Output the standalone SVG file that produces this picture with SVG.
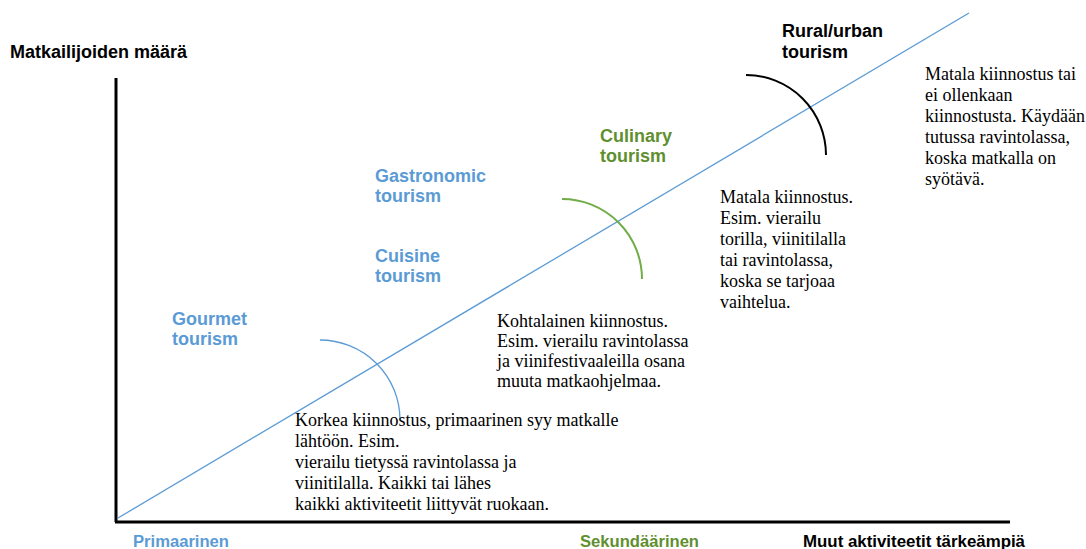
<svg xmlns="http://www.w3.org/2000/svg" width="1086" height="549" viewBox="0 0 1086 549">
<style>
.lbl{font-family:"Liberation Sans",Arial,sans-serif;font-weight:bold;font-size:18px}
.blue{fill:#5b9bd5}
.green{fill:#5f8f2f}
.black{fill:#000}
.body{font-family:"Liberation Serif","Times New Roman",serif;font-size:18px;fill:#000}
.ax{font-family:"Liberation Sans",Arial,sans-serif;font-weight:bold;font-size:16px}
</style>
<rect width="1086" height="549" fill="#fff"/>
<g id="axes">
<line x1="116" y1="78" x2="116" y2="522" stroke="#000" stroke-width="3"/>
<line x1="115" y1="522" x2="1010" y2="522" stroke="#000" stroke-width="3"/>
<text class="lbl black" x="10" y="58">Matkailijoiden määrä</text>
<text class="ax blue" x="133" y="547" textLength="96" lengthAdjust="spacingAndGlyphs">Primaarinen</text>
<text class="ax green" x="580" y="547" textLength="119" lengthAdjust="spacingAndGlyphs">Sekundäärinen</text>
<text class="ax black" x="803" y="547" textLength="222" lengthAdjust="spacingAndGlyphs">Muut aktiviteetit tärkeämpiä</text>
</g>
<g id="connectors" fill="none">
<line x1="118" y1="518" x2="969" y2="13" stroke="#5b9bd5" stroke-width="1.3"/>
<path d="M320,340 A80,80 0 0 1 400,420" stroke="#5b9bd5" stroke-width="1.3"/>
<path d="M562,199 A80,80 0 0 1 642,279" stroke="#70ad47" stroke-width="2"/>
<path d="M746,75 A80,80 0 0 1 826,155" stroke="#000" stroke-width="2"/>
</g>
<g id="gourmet">
<text class="lbl blue" x="172" y="325">Gourmet</text>
<text class="lbl blue" x="172" y="345">tourism</text>
</g>
<g id="gastronomic">
<text class="lbl blue" x="375" y="182">Gastronomic</text>
<text class="lbl blue" x="375" y="202">tourism</text>
</g>
<g id="cuisine">
<text class="lbl blue" x="375" y="262">Cuisine</text>
<text class="lbl blue" x="375" y="282">tourism</text>
</g>
<g id="culinary">
<text class="lbl green" x="600" y="142">Culinary</text>
<text class="lbl green" x="600" y="162">tourism</text>
</g>
<g id="rural">
<text class="lbl black" x="782" y="37">Rural/urban</text>
<text class="lbl black" x="782" y="58">tourism</text>
</g>
<g id="korkea">
<text class="body" x="295" y="426">Korkea kiinnostus, primaarinen syy matkalle</text>
<text class="body" x="295" y="447">lähtöön. Esim.</text>
<text class="body" x="295" y="468">vierailu tietyssä ravintolassa ja</text>
<text class="body" x="295" y="489">viinitilalla. Kaikki tai lähes</text>
<text class="body" x="295" y="510">kaikki aktiviteetit liittyvät ruokaan.</text>
</g>
<g id="kohtalainen">
<text class="body" x="497" y="327">Kohtalainen kiinnostus.</text>
<text class="body" x="497" y="347">Esim. vierailu ravintolassa</text>
<text class="body" x="497" y="367">ja viinifestivaaleilla osana</text>
<text class="body" x="497" y="387">muuta matkaohjelmaa.</text>
</g>
<g id="matala">
<text class="body" x="720" y="203">Matala kiinnostus.</text>
<text class="body" x="720" y="224">Esim. vierailu</text>
<text class="body" x="720" y="245">torilla, viinitilalla</text>
<text class="body" x="720" y="266">tai ravintolassa,</text>
<text class="body" x="720" y="287">koska se tarjoaa</text>
<text class="body" x="720" y="308">vaihtelua.</text>
</g>
<g id="matala2">
<text class="body" x="925" y="80">Matala kiinnostus tai</text>
<text class="body" x="925" y="101">ei ollenkaan</text>
<text class="body" x="925" y="122">kiinnostusta. Käydään</text>
<text class="body" x="925" y="143">tutussa ravintolassa,</text>
<text class="body" x="925" y="164">koska matkalla on</text>
<text class="body" x="925" y="185">syötävä.</text>
</g>
</svg>
